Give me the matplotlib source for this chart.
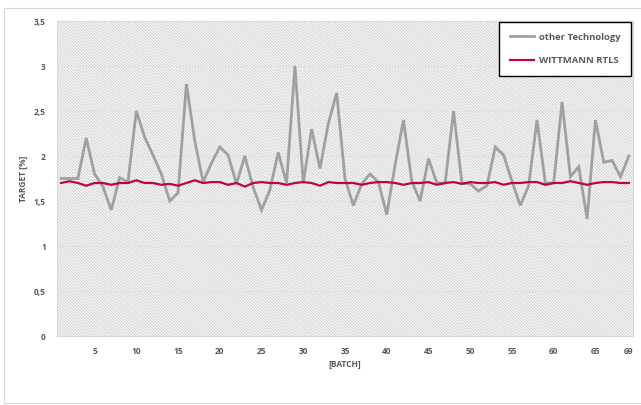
import numpy as np
import matplotlib
matplotlib.use("Agg")
import matplotlib.pyplot as plt
from matplotlib.patches import Rectangle

plt.rcParams['font.family'] = ['Open Sans', 'DejaVu Sans']
plt.rcParams['hatch.linewidth'] = 0.8
plt.rcParams['hatch.color'] = '#d2d2d2'

batch = list(range(1, 70))

other_tech = [1.75, 1.75, 1.75, 2.20, 1.80, 1.66, 1.40, 1.76, 1.71, 2.50,
              2.21, 2.01, 1.80, 1.50, 1.59, 2.80, 2.17, 1.71, 1.92, 2.10,
              2.01, 1.69, 2.00, 1.65, 1.40, 1.62, 2.04, 1.70, 3.00, 1.70,
              2.30, 1.86, 2.36, 2.70, 1.75, 1.45, 1.69, 1.80, 1.71, 1.35,
              1.90, 2.40, 1.72, 1.50, 1.97, 1.70, 1.70, 2.50, 1.70, 1.69,
              1.61, 1.67, 2.10, 2.01, 1.72, 1.45, 1.67, 2.40, 1.70, 1.70,
              2.60, 1.77, 1.88, 1.30, 2.40, 1.93, 1.95, 1.77, 2.00]

wittmann = [1.70, 1.72, 1.70, 1.67, 1.70, 1.70, 1.68, 1.70, 1.70, 1.73,
            1.70, 1.70, 1.68, 1.69, 1.67, 1.70, 1.73, 1.70, 1.71, 1.71,
            1.68, 1.70, 1.66, 1.70, 1.71, 1.70, 1.70, 1.68, 1.70, 1.71,
            1.70, 1.67, 1.71, 1.70, 1.70, 1.70, 1.68, 1.70, 1.71, 1.71,
            1.70, 1.68, 1.70, 1.70, 1.71, 1.68, 1.70, 1.71, 1.69, 1.71,
            1.70, 1.70, 1.71, 1.68, 1.70, 1.70, 1.71, 1.71, 1.68, 1.70,
            1.70, 1.72, 1.70, 1.68, 1.70, 1.71, 1.71, 1.70, 1.70]

x_ticks = [5, 10, 15, 20, 25, 30, 35, 40, 45, 50, 55, 60, 65, 69]
y_ticks = [0, 0.5, 1, 1.5, 2, 2.5, 3, 3.5]
y_labels = ['0', '0,5', '1', '1,5', '2', '2,5', '3', '3,5']

text_col = '#595959'

W, H = 641, 405
fig = plt.figure(figsize=(W / 100, H / 100), dpi=100)
fig.patch.set_facecolor('white')

# chart border
fig.patches.append(Rectangle((4 / W, 1 - 403 / H), 700 / W, 395 / H,
                             transform=fig.transFigure, fill=False,
                             edgecolor='#d9d9d9', lw=0.8))

ax = fig.add_axes([57 / W, 1 - 336 / H, (633 - 57) / W, (336 - 21) / H])
ax.patch.set_facecolor('white')
ax.patch.set_hatch('\\' * 11)
ax.patch.set_edgecolor('#d2d2d2')

# category gridlines between the points, value gridlines every 0.5
for xb in np.arange(0.5, 70, 1):
    ax.axvline(xb, color='#e9e9e9', lw=1.0, zorder=1)
for yv in y_ticks:
    ax.axhline(yv, color='#e2e2e2', lw=0.8, zorder=1)

ax.plot(batch, other_tech, color='#a0a0a0', lw=2.0, label='other Technology',
        zorder=3, solid_joinstyle='miter')
ax.plot(batch, wittmann, color='#c00050', lw=1.6, label='WITTMANN RTLS', zorder=4)

ax.set_xlim(0.5, 69.5)
ax.set_ylim(0, 3.5)
ax.set_xticks(x_ticks)
ax.set_xticklabels([str(t) for t in x_ticks])
ax.set_yticks(y_ticks)
ax.set_yticklabels(y_labels)
ax.tick_params(length=0, labelsize=6, colors=text_col, pad=8)
for lab in ax.get_xticklabels() + ax.get_yticklabels():
    lab.set_fontweight('bold')
for sp in ax.spines.values():
    sp.set_color('#d9d9d9')
    sp.set_linewidth(0.8)

ax.set_xlabel('[BATCH]', fontsize=6, color=text_col, fontweight='bold', labelpad=3)
ax.set_ylabel('TARGET [%]', fontsize=6, color=text_col, fontweight='bold', labelpad=4)

leg = ax.legend(loc='upper right', bbox_to_anchor=(630.7 / W, 1 - 22.3 / H),
                bbox_transform=fig.transFigure, borderaxespad=0, fancybox=False,
                frameon=True, fontsize=6.8, labelspacing=1.55, handlelength=2.6,
                handletextpad=0.5, borderpad=1.1)
frame = leg.get_frame()
frame.set_edgecolor('black')
frame.set_linewidth(1.0)
frame.set_facecolor('white')
frame.set_alpha(1)
for t in leg.get_texts():
    t.set_color(text_col)
    t.set_fontweight('bold')

fig.savefig('out.png', dpi=100)
